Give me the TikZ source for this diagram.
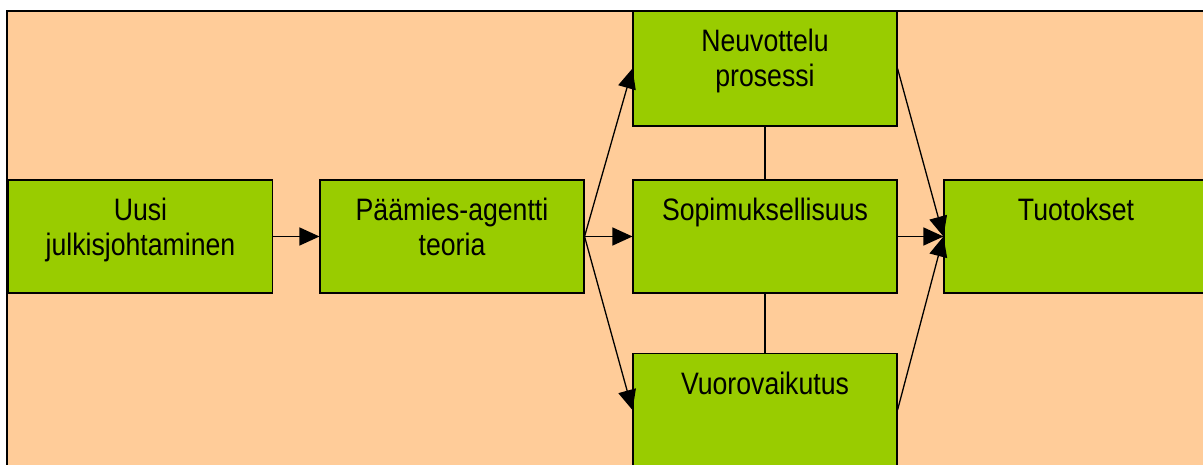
\documentclass[tikz,border=0pt]{standalone}
\usepackage{fontspec}
\setmainfont{Liberation Sans}[FakeStretch=0.86]
\usetikzlibrary{arrows.meta}
\definecolor{peach}{HTML}{FFCC99}
\definecolor{boxgreen}{HTML}{99CC00}
\newcommand\boxtext[2][113pt]{\parbox[c][#1][t]{264pt}{\centering\rule{0pt}{40.5pt}#2\par}}
\begin{document}
\begin{tikzpicture}[x=1pt,y=-1pt,
  box/.style={draw=black, fill=boxgreen, line width=1.1pt, inner sep=0pt, font=\fontsize{31}{35}\selectfont},
  arr/.style={line width=1.3pt, -{Triangle[length=20pt,width=18pt]}},
  link/.style={line width=1.3pt}]
\useasboundingbox (0,0) rectangle (1203,465);
\begin{scope}
\clip (0,0) rectangle (1203,465);
\fill[peach] (7,11) rectangle (1220,480);
\draw[line width=2pt] (1220,11) -- (7,11) -- (7,480);
\node[box] (u) at (140.5,236.5) {\boxtext{Uusi\\julkisjohtaminen}};
\node[box] (p) at (452,236.5) {\boxtext{Päämies-agentti\\teoria}};
\node[box] (n) at (765,68.5) {\boxtext[115pt]{Neuvottelu\\prosessi}};
\node[box] (s) at (765,236.5) {\boxtext{Sopimuksellisuus}};
\node[box] (v) at (765,410) {\boxtext{Vuorovaikutus}};
\node[box] (t) at (1076,236.5) {\boxtext{Tuotokset}};
\draw[arr] (u.east) -- (p.west);
\draw[arr] (p.east) -- (n.west);
\draw[arr] (p.east) -- (s.west);
\draw[arr] (p.east) -- (v.west);
\draw[arr] (n.east) -- (t.west);
\draw[arr] (s.east) -- (t.west);
\draw[arr] (v.east) -- (t.west);
\draw[link] (n.south) -- (s.north);
\draw[link] (s.south) -- (v.north);
\end{scope}
\end{tikzpicture}
\end{document}
